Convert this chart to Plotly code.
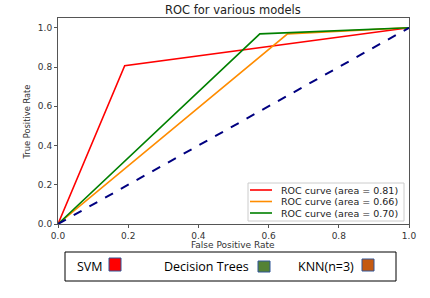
import plotly.graph_objects as go

# Data
svm_fpr = [0.0, 0.19, 1.0]
svm_tpr = [0.0, 0.807, 1.0]
dt_fpr = [0.0, 0.654, 1.0]
dt_tpr = [0.0, 0.969, 1.0]
knn_fpr = [0.0, 0.575, 1.0]
knn_tpr = [0.0, 0.969, 1.0]
diag = [0.0, 1.0]
legend_labels = ["ROC curve (area = 0.81)", "ROC curve (area = 0.66)", "ROC curve (area = 0.70)"]
legend_colors = ["red", "darkorange", "green"]
x_ticks = [0.0, 0.2, 0.4, 0.6, 0.8, 1.0]
y_ticks = [0.0, 0.2, 0.4, 0.6, 0.8, 1.0]
box_labels = ["SVM", "Decision Trees", "KNN(n=3)"]
box_colors = ["#FF0000", "#548235", "#C55A11"]

W, H = 430, 298
L, R, T, B = 58, 409, 18, 224

def px(x):
    return (x - L) / (R - L)

def py(y):
    return (B - y) / (B - T)

fig = go.Figure()
fig.add_trace(go.Scatter(x=svm_fpr, y=svm_tpr, mode="lines", line=dict(color=legend_colors[0], width=1.6), name=legend_labels[0]))
fig.add_trace(go.Scatter(x=dt_fpr, y=dt_tpr, mode="lines", line=dict(color=legend_colors[1], width=1.6), name=legend_labels[1]))
fig.add_trace(go.Scatter(x=knn_fpr, y=knn_tpr, mode="lines", line=dict(color=legend_colors[2], width=1.6), name=legend_labels[2]))
fig.add_trace(go.Scatter(x=diag, y=diag, mode="lines", line=dict(color="navy", width=2, dash="dash"), showlegend=False))

tickfont = dict(family="DejaVu Sans", size=9, color="#333")
fig.update_xaxes(range=[0, 1], tickvals=x_ticks, ticktext=[f"{v:.1f}" for v in x_ticks],
                 showgrid=False, zeroline=False, showline=True, mirror=True, linecolor="#555", linewidth=1,
                 ticks="outside", ticklen=3, tickcolor="#555", tickfont=tickfont)
fig.update_yaxes(range=[0, 1.05], tickvals=y_ticks, ticktext=[f"{v:.1f}" for v in y_ticks],
                 showgrid=False, zeroline=False, showline=True, mirror=True, linecolor="#555", linewidth=1,
                 ticks="outside", ticklen=3, tickcolor="#555", tickfont=tickfont)

annotations = [
    dict(text="ROC for various models", xref="paper", yref="paper", x=px(233), y=py(10), showarrow=False,
         xanchor="center", yanchor="middle", font=dict(family="DejaVu Sans", size=11.5, color="#222")),
    dict(text="False Positive Rate", xref="paper", yref="paper", x=px(233), y=py(245), showarrow=False,
         xanchor="center", yanchor="middle", font=dict(family="DejaVu Sans", size=9, color="#333")),
    dict(text="True Positive Rate", xref="paper", yref="paper", x=px(26), y=py(122.5), showarrow=False,
         textangle=-90, xanchor="center", yanchor="middle", font=dict(family="DejaVu Sans", size=8.3, color="#333")),
]
shapes = []

# custom compact legend (inside lower right)
shapes.append(dict(type="rect", xref="paper", yref="paper", x0=px(248), x1=px(404), y0=py(221), y1=py(183),
                   line=dict(color="#cccccc", width=1), fillcolor="white", layer="above"))
for i, (lab, col) in enumerate(zip(legend_labels, legend_colors)):
    yc = [190, 201.5, 213][i]
    shapes.append(dict(type="line", xref="paper", yref="paper", x0=px(250), x1=px(272), y0=py(yc), y1=py(yc),
                       line=dict(color=col, width=1.6), layer="above"))
    annotations.append(dict(text=lab, xref="paper", yref="paper", x=px(279), y=py(yc), showarrow=False,
                            xanchor="left", yanchor="middle",
                            font=dict(family="DejaVu Sans", size=9.5, color="#222")))

# bottom key box
text_x = [75, 162, 296]
sq_x = [109, 258, 362]
sq_y = [(258, 271), (261, 272), (259, 271)]
shapes.append(dict(type="rect", xref="paper", yref="paper", x0=px(65), x1=px(396), y0=py(281), y1=py(252),
                   line=dict(color="black", width=1), fillcolor="white"))
for lab, tx, sx, (y0, y1), col in zip(box_labels, text_x, sq_x, sq_y, box_colors):
    annotations.append(dict(text=lab, xref="paper", yref="paper", x=px(tx), y=py(266), showarrow=False,
                            xanchor="left", yanchor="middle",
                            font=dict(family="Open Sans", size=12.5, color="black")))
    shapes.append(dict(type="rect", xref="paper", yref="paper", x0=px(sx), x1=px(sx + 12), y0=py(y1), y1=py(y0),
                       line=dict(color="#2F5597", width=1), fillcolor=col))

fig.update_layout(
    width=W, height=H,
    margin=dict(l=L, r=W - R, t=T, b=H - B),
    paper_bgcolor="white", plot_bgcolor="white",
    showlegend=False,
    annotations=annotations, shapes=shapes,
)

fig.write_html("out.html", config={"displayModeBar": False},
               post_script="document.body.style.margin='0px';")
